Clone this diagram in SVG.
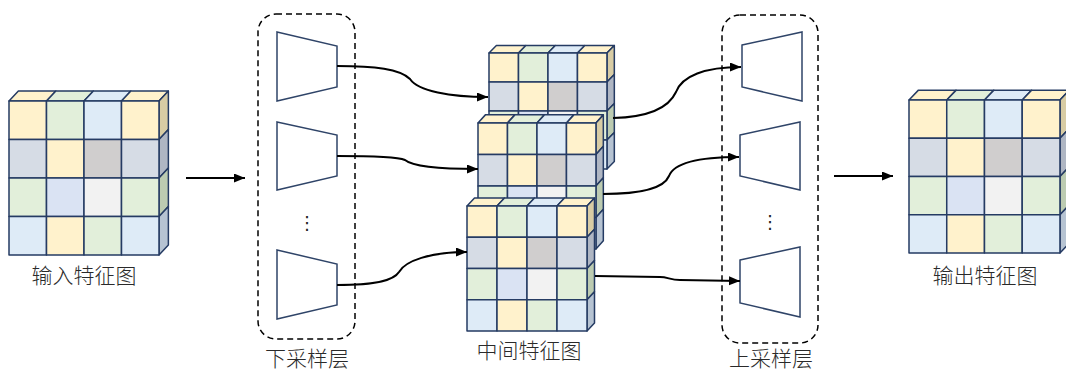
<svg xmlns="http://www.w3.org/2000/svg" xmlns:xlink="http://www.w3.org/1999/xlink" width="1066" height="372" viewBox="0 0 1066 372">
<style>
.c rect, .c polygon { stroke:#253B63; stroke-width:1.5; vector-effect:non-scaling-stroke; stroke-linejoin:round; }
.y{fill:#FFF2CC}.g{fill:#E2EFDA}.b{fill:#DEEBF7}.gb{fill:#D6DCE5}.gr{fill:#D0CECE}.lb{fill:#DAE3F3}.lg{fill:#F2F2F2}
.sy{fill:#D8CCA4}.sgb{fill:#AFB6C3}.sg{fill:#BCCBB1}.sb{fill:#B6C3D2}
.trap { fill:#FFFFFF; stroke:#2F4468; stroke-width:1.5; }
.box { fill:none; stroke:#000; stroke-width:1.5; stroke-dasharray:6 4; }
.con { fill:none; stroke:#000; stroke-width:2; marker-end:url(#arr); }
.lbl { font-family:"Noto Sans CJK SC","Noto Sans",sans-serif; font-size:21px; font-weight:300; fill:#2A2A2A; text-anchor:middle; }
.dots { font-family:"DejaVu Sans",sans-serif; font-size:18px; fill:#222; text-anchor:middle; }
</style>
<defs>
<marker id="arr" markerUnits="userSpaceOnUse" markerWidth="12" markerHeight="10" refX="11" refY="4.5" orient="auto">
<path d="M0,0 L11,4.5 L0,9 Z" fill="#000"/>
</marker>
<g id="cube" class="c">
<polygon class="y" points="0,0 7.5,-8 37.5,-8 30,0"/>
<polygon class="g" points="30,0 37.5,-8 67.5,-8 60,0"/>
<polygon class="b" points="60,0 67.5,-8 97.5,-8 90,0"/>
<polygon class="y" points="90,0 97.5,-8 127.5,-8 120,0"/>
<polygon class="sy" points="120,0 127.5,-8 127.5,23 120,31"/>
<polygon class="sgb" points="120,31 127.5,23 127.5,54 120,62"/>
<polygon class="sg" points="120,62 127.5,54 127.5,85 120,93"/>
<polygon class="sb" points="120,93 127.5,85 127.5,116 120,124"/>
<rect class="y" x="0" y="0" width="30" height="31"/>
<rect class="g" x="30" y="0" width="30" height="31"/>
<rect class="b" x="60" y="0" width="30" height="31"/>
<rect class="y" x="90" y="0" width="30" height="31"/>
<rect class="gb" x="0" y="31" width="30" height="31"/>
<rect class="y" x="30" y="31" width="30" height="31"/>
<rect class="gr" x="60" y="31" width="30" height="31"/>
<rect class="gb" x="90" y="31" width="30" height="31"/>
<rect class="g" x="0" y="62" width="30" height="31"/>
<rect class="lb" x="30" y="62" width="30" height="31"/>
<rect class="lg" x="60" y="62" width="30" height="31"/>
<rect class="g" x="90" y="62" width="30" height="31"/>
<rect class="b" x="0" y="93" width="30" height="31"/>
<rect class="y" x="30" y="93" width="30" height="31"/>
<rect class="g" x="60" y="93" width="30" height="31"/>
<rect class="b" x="90" y="93" width="30" height="31"/>
</g>
</defs>
<rect width="1066" height="372" fill="#FFFFFF"/>

<g id="input-map">
<use xlink:href="#cube" href="#cube" transform="translate(9,101) scale(1.25,1.242)"/>
<text class="lbl" x="84" y="283">输入特征图</text>
</g>

<g id="downsample-layer">
<rect class="box" x="258" y="14" width="97" height="325" rx="18"/>
<polygon class="trap" points="277,32 337,46 337,87 277,101"/>
<polygon class="trap" points="277,122 337,135 337,176 277,190"/>
<polygon class="trap" points="277,250 337,264 337,305 277,319"/>
<text class="dots" x="307" y="229">⋮</text>
<text class="lbl" x="307" y="366">下采样层</text>
</g>

<g id="middle-maps">
<use xlink:href="#cube" href="#cube" transform="translate(489,53) scale(0.983,0.935)"/>
<use xlink:href="#cube" href="#cube" transform="translate(478,123) scale(0.983,1.016)"/>
<use xlink:href="#cube" href="#cube" transform="translate(467,206) scale(1,1.008)"/>
<text class="lbl" x="529" y="358">中间特征图</text>
</g>

<g id="upsample-layer">
<rect class="box" x="722" y="15" width="96" height="328" rx="18"/>
<polygon class="trap" points="742,45 802,32 802,101 742,87"/>
<polygon class="trap" points="740,135 800,122 800,190 740,176"/>
<polygon class="trap" points="740,260 800,247 800,317 740,303"/>
<text class="dots" x="770" y="228">⋮</text>
<text class="lbl" x="771" y="366">上采样层</text>
</g>

<g id="output-map">
<use xlink:href="#cube" href="#cube" transform="translate(909,100) scale(1.258,1.234)"/>
<text class="lbl" x="985" y="283">输出特征图</text>
</g>

<g id="connectors">
<path class="con" d="M186,178 L245,178"/>
<path class="con" d="M834,176 L893,176"/>
<path class="con" d="M337,66 C375,66 400,69 410,79 C418,91 450,97 488,97"/>
<path class="con" d="M337,156 C380,156 398,157 405,160 C412,166 440,169 478,169"/>
<path class="con" d="M337,285 C378,285 394,280 399,272 C405,261 430,252 467,252"/>
<path class="con" d="M613,118 C655,117 670,105 676,92 C682,76 705,67 741,67"/>
<path class="con" d="M603,194 C640,194 664,188 669,176 C674,163 700,157 739,157"/>
<path class="con" d="M595,276 L660,277 C668,277 670,280 680,280 L740,281"/>
</g>
</svg>
